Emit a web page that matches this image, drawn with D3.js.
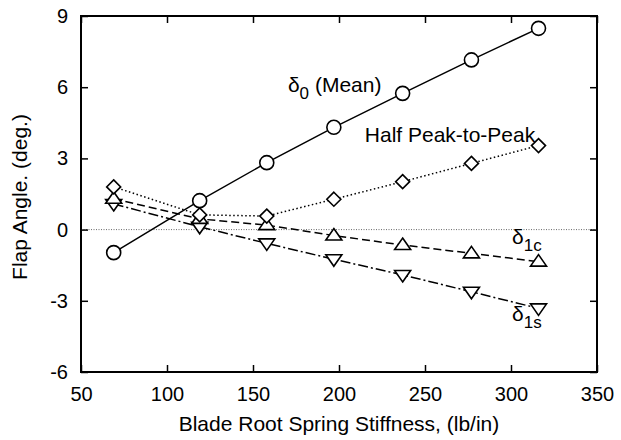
<!DOCTYPE html>
<html>
<head>
<meta charset="utf-8">
<script src="https://cdn.jsdelivr.net/npm/d3@7"></script>
<style>
  body { margin: 0; background: #fff; }
  text { font-family: "Liberation Sans", Arial, sans-serif; fill: #000; }
</style>
</head>
<body>
<div id="chart"></div>
<script>
// stiffness values (lb/in)
const stiffness = [69, 119, 158, 197, 237, 277, 316];

// flap angle components (deg.)
const meanAngle = [-0.97, 1.22, 2.82, 4.31, 5.74, 7.15, 8.48];
const halfPeak = [1.8, 0.62, 0.57, 1.28, 2.02, 2.79, 3.54];
const cosAngle = [1.3, 0.45, 0.19, -0.25, -0.65, -1.0, -1.35];
const sinAngle = [1.08, 0.12, -0.58, -1.25, -1.91, -2.62, -3.32];

const xTicks = [50, 100, 150, 200, 250, 300, 350];
const yTicks = [-6, -3, 0, 3, 6, 9];

const width = 621, height = 440;
const margin = {top: 16, right: 24, bottom: 68, left: 81};
const w = width - margin.left - margin.right;
const h = height - margin.top - margin.bottom;

const svg = d3.select('#chart').append('svg')
    .attr('width', width)
    .attr('height', height);

const chart = svg.append('g')
    .attr('transform', `translate(${margin.left},${margin.top})`);

const x = d3.scaleLinear().domain([50, 350]).range([0, w]);
const y = d3.scaleLinear().domain([-6, 9]).range([h, 0]);

// zero reference line
chart.append('line')
    .attr('x1', 0).attr('x2', w)
    .attr('y1', y(0)).attr('y2', y(0))
    .attr('stroke', '#000')
    .attr('stroke-width', 0.6)
    .attr('stroke-dasharray', '1,1.5');

// axes with inward ticks on all four sides (plain hyphen for negatives)
const tickLen = 7;
const plain = d => String(d);
chart.append('g').attr('class', 'axis')
    .attr('transform', `translate(0,${h})`)
    .call(d3.axisBottom(x).tickValues(xTicks).tickFormat(plain).tickSizeInner(-tickLen).tickSizeOuter(0).tickPadding(14.5));
chart.append('g').attr('class', 'axis')
    .call(d3.axisTop(x).tickValues(xTicks).tickSizeInner(-tickLen).tickSizeOuter(0).tickFormat(''));
chart.append('g').attr('class', 'axis')
    .call(d3.axisLeft(y).tickValues(yTicks).tickFormat(plain).tickSizeInner(-tickLen).tickSizeOuter(0).tickPadding(13));
chart.append('g').attr('class', 'axis')
    .attr('transform', `translate(${w},0)`)
    .call(d3.axisRight(y).tickValues(yTicks).tickSizeInner(-tickLen).tickSizeOuter(0).tickFormat(''));

chart.selectAll('.axis .domain').remove();
chart.selectAll('.axis line').attr('stroke', '#000').attr('stroke-width', 1.5);
chart.selectAll('.axis text')
    .style('font-size', '20px')
    .style('font-family', '"Liberation Sans", Arial, sans-serif');

// frame
chart.append('rect')
    .attr('x', 0).attr('y', 0)
    .attr('width', w).attr('height', h)
    .attr('fill', 'none')
    .attr('stroke', '#000')
    .attr('stroke-width', 2);

const series = [
    {values: sinAngle, dash: '10,3,2,3', marker: 'down'},
    {values: cosAngle, dash: '8,4', marker: 'up'},
    {values: halfPeak, dash: '1.5,2.5', marker: 'diamond'},
    {values: meanAngle, dash: null, marker: 'circle'}
];

const line = d3.line()
    .x(d => x(d[0]))
    .y(d => y(d[1]));

const markerPath = {
    circle: 'M7,0A7,7 0 1,1 -7,0A7,7 0 1,1 7,0Z',
    diamond: 'M0,-7L7,0L0,7L-7,0Z',
    up: 'M0,-7L8,4.5L-8,4.5Z',
    down: 'M0,7L8,-4.5L-8,-4.5Z'
};

series.forEach(s => {
    const pts = stiffness.map((k, i) => [k, s.values[i]]);
    chart.append('path')
        .datum(pts)
        .attr('d', line)
        .attr('fill', 'none')
        .attr('stroke', '#000')
        .attr('stroke-width', 1.5)
        .attr('stroke-dasharray', s.dash);
});

series.forEach(s => {
    const pts = stiffness.map((k, i) => [k, s.values[i]]);
    chart.selectAll(null)
        .data(pts)
        .join('path')
        .attr('transform', d => `translate(${x(d[0])},${y(d[1])})`)
        .attr('d', markerPath[s.marker])
        .attr('fill', '#fff')
        .attr('stroke', '#000')
        .attr('stroke-width', 1.6);
});

// series labels
function deltaLabel(px, py, sub, rest) {
    const t = chart.append('text')
        .attr('x', px).attr('y', py)
        .style('font-size', '21px');
    t.append('tspan').text('δ');
    t.append('tspan').attr('dy', 7).style('font-size', '17px').text(sub);
    if (rest) t.append('tspan').attr('dy', -7).text(' ' + rest);
}
deltaLabel(x(170.3), y(5.8), '0', '(Mean)');
chart.append('text')
    .attr('x', x(215)).attr('y', y(3.7))
    .style('font-size', '21px')
    .text('Half Peak-to-Peak');
deltaLabel(x(300.6), y(-0.61), '1c');
deltaLabel(x(300.6), y(-3.84), '1s');

// axis titles
svg.append('text')
    .attr('x', margin.left + w / 2)
    .attr('y', 431)
    .attr('text-anchor', 'middle')
    .style('font-size', '21px')
    .text('Blade Root Spring Stiffness, (lb/in)');

svg.append('text')
    .attr('transform', `translate(27,197) rotate(-90)`)
    .attr('text-anchor', 'middle')
    .style('font-size', '21px')
    .text('Flap Angle. (deg.)');
</script>
</body>
</html>
